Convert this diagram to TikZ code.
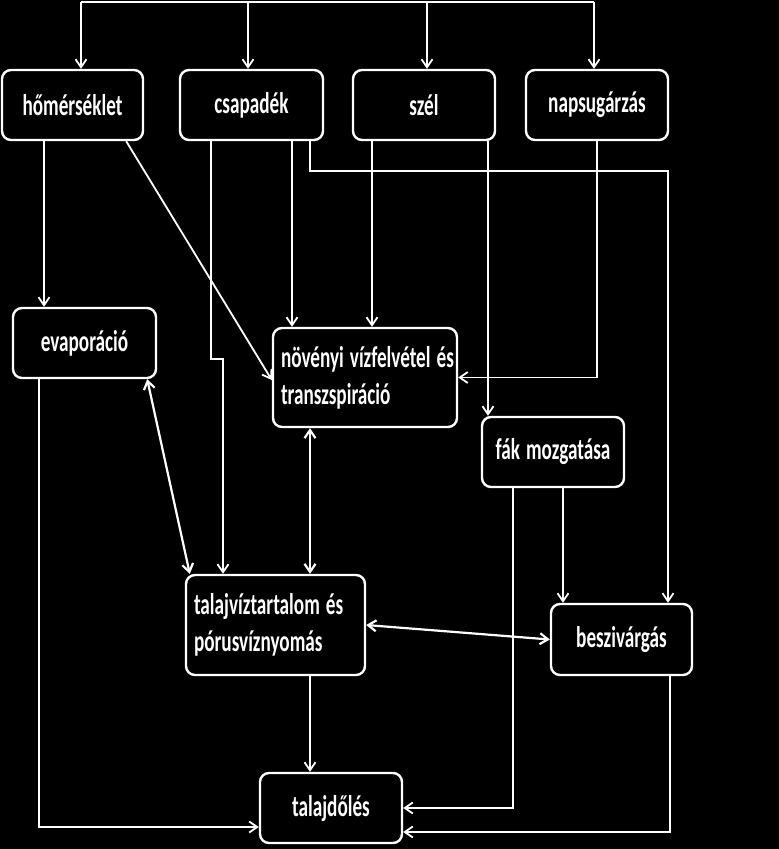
\documentclass[tikz,border=0pt]{standalone}
\usepackage{fontspec}
\usepackage{tikz}
\usetikzlibrary{arrows.meta}
\newfontfamily\cfont[FakeStretch=0.64]{Carlito}
\newcommand\boxfont{\cfont\bfseries\fontsize{30}{37}\selectfont}

\begin{document}
\begin{tikzpicture}[x=1pt, y=-1pt,
  box/.style={draw=white, line width=2.4pt, rounded corners=9pt, text=white,
    font=\boxfont, minimum height=70pt, minimum width=142pt, inner sep=0pt,
    align=center, execute at begin node={\spaceskip 6pt\relax}},
  wide/.style={box, align=left, inner xsep=8pt},
  conn/.style={draw=white, line width=1.8pt},
  arr/.style={conn, -{Straight Barb[length=8pt,width=11pt]}},
  darr/.style={conn, line width=2.2pt,
    {Straight Barb[length=8pt,width=11pt]}-{Straight Barb[length=8pt,width=11pt]}}]

  \fill[black] (0,0) rectangle (779,849);

  % Top row: weather inputs
  \node[box, minimum width=141pt] (hom)  at (72.5,105) {hőmérséklet};
  \node[box, minimum width=143pt] (csap) at (251.5,105) {csapadék};
  \node[box] (szel) at (424,105) {szél};
  \node[box] (nap)  at (597,105) {napsugárzás};

  % Processes
  \node[box, minimum width=143pt] (evap) at (84.5,343) {evaporáció};
  \node[wide, text width=168pt, minimum height=99pt] (novt) at (365,377.5)
    {\mbox{növényi vízfelvétel és}\\\mbox{transzspiráció}};
  \node[box] (fak) at (553,452) {fák mozgatása};
  \node[wide, text width=163pt, minimum height=100pt] (talv) at (275.5,625)
    {\mbox{talajvíztartalom és}\\\mbox{pórusvíznyomás}};
  \node[box, minimum width=141pt, minimum height=71pt] (besz) at (621.5,639.5) {beszivárgás};
  \node[box] (dol) at (331,808) {talajdőlés};

  % Common feed from above
  \foreach \n/\x in {hom/81, csap/248, szel/427, nap/594}{
    \coordinate (f\n) at (\x,2);
    \draw[arr] (f\n) -- (f\n |- \n.north);
  }
  \draw[conn] (fhom) -- (fnap);

  % From the weather boxes
  \draw[arr] ([xshift=-28.5pt]hom.south) coordinate (h1) -- (h1 |- evap.north);
  \draw[arr] ([xshift=-18pt]hom.south east) -- ([yshift=-2.5pt]novt.west);
  \draw[arr] ([xshift=-40.5pt]csap.south) -- ++(0,218) -| ([xshift=-52.5pt]talv.north);
  \draw[arr] ([xshift=40.5pt]csap.south) coordinate (c2) -- (c2 |- novt.north);
  \draw[arr] ([xshift=58.5pt]csap.south) -- ++(0,30) -| ([xshift=46.5pt]besz.north);
  \draw[arr] ([xshift=-52pt]szel.south) coordinate (s1) -- (s1 |- novt.north);
  \draw[arr] ([xshift=64pt]szel.south) coordinate (s2) -- (s2 |- fak.north);
  \draw[arr] (nap.south) |- (novt.east);

  % Soil water and the rest
  \draw[darr] ([xshift=-10pt]evap.south east) -- ([xshift=5pt]talv.north west);
  \draw[darr] ([xshift=-55pt]novt.south) -- ([xshift=34.5pt]talv.north);
  \draw[darr] (talv.east) -- (besz.west);
  \draw[arr] ([xshift=10pt]fak.south) coordinate (k1) -- (k1 |- besz.north);
  \draw[arr] ([xshift=-40pt]fak.south) |- (dol.east);
  \draw[arr] ([xshift=34.5pt]talv.south) -- ([xshift=-21pt]dol.north);
  \draw[arr] ([xshift=48.5pt]besz.south) |- ([yshift=-24pt]dol.east);
  \draw[arr] ([xshift=-45.5pt]evap.south) |- ([yshift=-19pt]dol.west);
\end{tikzpicture}
\end{document}
